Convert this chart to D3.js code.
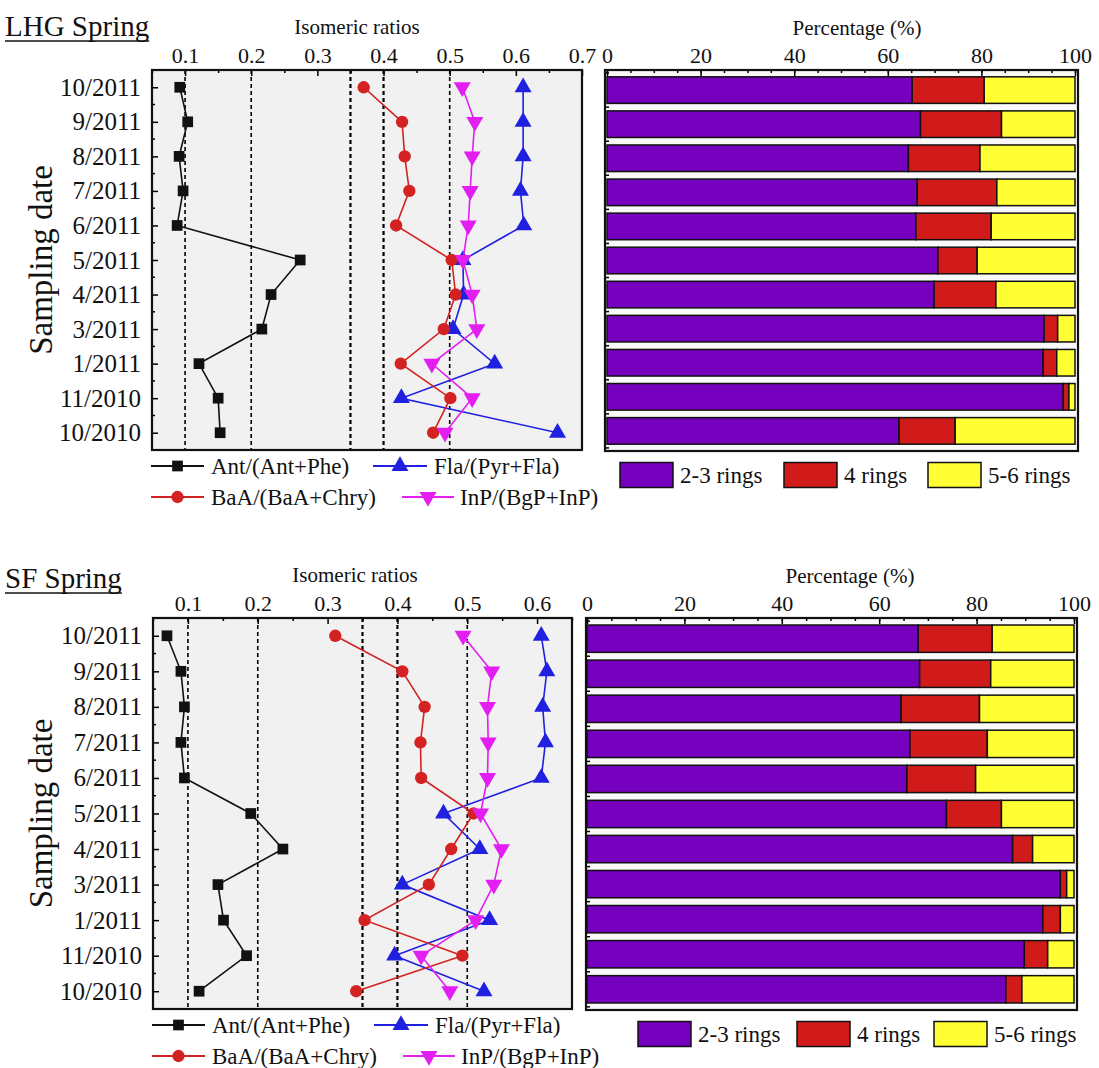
<!DOCTYPE html>
<html>
<head>
<meta charset="utf-8">
<script src="https://cdn.jsdelivr.net/npm/d3@7"></script>
<style>
  body { margin: 0; background: #fff; }
  svg, svg text { font-family: "Times New Roman", "Liberation Serif", "DejaVu Serif", serif; }
</style>
</head>
<body>
<svg id="chart" width="1099" height="1068"></svg>
<script>
// sampling dates, top row first
const dates = ["10/2011", "9/2011", "8/2011", "7/2011", "6/2011", "5/2011", "4/2011", "3/2011", "1/2011", "11/2010", "10/2010"];

// isomeric ratios, LHG spring
const lhgAnt = [0.092, 0.104, 0.091, 0.097, 0.088, 0.274, 0.230, 0.216, 0.121, 0.150, 0.153];
const lhgBaA = [0.370, 0.428, 0.432, 0.439, 0.419, 0.503, 0.509, 0.491, 0.426, 0.501, 0.475];
const lhgFla = [0.611, 0.611, 0.611, 0.607, 0.612, 0.520, 0.521, 0.505, 0.568, 0.427, 0.663];
const lhgInP = [0.519, 0.538, 0.534, 0.531, 0.528, 0.520, 0.534, 0.541, 0.473, 0.534, 0.493];

// isomeric ratios, SF spring
const sfAnt = [0.070, 0.090, 0.095, 0.090, 0.095, 0.190, 0.236, 0.143, 0.151, 0.184, 0.116];
const sfBaA = [0.311, 0.407, 0.439, 0.433, 0.434, 0.509, 0.477, 0.445, 0.353, 0.493, 0.341];
const sfFla = [0.606, 0.614, 0.608, 0.612, 0.606, 0.466, 0.518, 0.407, 0.532, 0.396, 0.524];
const sfInP = [0.494, 0.535, 0.529, 0.530, 0.529, 0.519, 0.549, 0.538, 0.512, 0.434, 0.475];

// ring percentages
const lhgRing23 = [65.2, 67.0, 64.4, 66.3, 66.0, 70.7, 69.9, 93.4, 93.2, 97.5, 62.4];
const lhgRing4  = [15.4, 17.3, 15.3, 17.0, 16.1, 8.4, 13.2, 2.9, 2.9, 1.2, 12.0];
const lhgRing56 = [19.4, 15.7, 20.3, 16.7, 17.9, 20.9, 16.9, 3.7, 3.9, 1.3, 25.6];
const sfRing23 = [68.0, 68.3, 64.5, 66.3, 65.7, 73.8, 87.4, 97.2, 93.6, 89.8, 86.0];
const sfRing4  = [15.2, 14.6, 16.1, 15.9, 14.1, 11.3, 4.1, 1.3, 3.6, 4.8, 3.3];
const sfRing56 = [16.8, 17.1, 19.4, 17.8, 20.2, 14.9, 8.5, 1.5, 2.8, 5.4, 10.7];

const seriesNames = ["Ant/(Ant+Phe)", "Fla/(Pyr+Fla)", "BaA/(BaA+Chry)", "InP/(BgP+InP)"];
const ringNames = ["2-3 rings", "4 rings", "5-6 rings"];
const lhgTicks = [0.1, 0.2, 0.3, 0.4, 0.5, 0.6, 0.7];
const sfTicks = [0.1, 0.2, 0.3, 0.4, 0.5, 0.6];
const guideLines = [0.1, 0.2, 0.35, 0.4, 0.5];
const pctTicks = [0, 20, 40, 60, 80, 100];

const FONT = '"Times New Roman", "Liberation Serif", "DejaVu Serif", serif';
const svg = d3.select("#chart");

const styles = [
  {color: "#111", symbol: d3.symbolSquare, size: 115, rot: 0},
  {color: "#2020e0", symbol: d3.symbolTriangle, size: 125, rot: 0},
  {color: "#d42222", symbol: d3.symbolCircle, size: 120, rot: 0},
  {color: "#e21ff0", symbol: d3.symbolTriangle, size: 125, rot: 180}
];
const ringColors = ["#7500bd", "#d11b1b", "#ffff33"];

function txt(g, x, y, size, s) {
  return g.append("text").attr("x", x).attr("y", y)
    .attr("font-size", size).attr("font-family", FONT).attr("fill", "#111").text(s);
}

function styleAxis(a) {
  a.attr("font-family", FONT);
  a.select(".domain").remove();
  a.selectAll("line").attr("stroke-width", 1.5);
  a.selectAll("text").attr("font-size", 22).attr("font-family", FONT).attr("fill", "#111");
}

function drawSection(cfg) {
  const g = svg.append("g");

  // title with underline
  const t = txt(g, 5, cfg.titleY, 29, cfg.title);
  const tw = t.node().getComputedTextLength();
  g.append("line").attr("x1", 5).attr("x2", 5 + tw)
    .attr("y1", cfg.titleY + 5).attr("y2", cfg.titleY + 5)
    .attr("stroke", "#111").attr("stroke-width", 1.5);

  // ----- line panel -----
  const x = d3.scaleLinear().domain(cfg.xDomain).range([cfg.lx0, cfg.lx1]);
  const y = d3.scalePoint().domain(dates).range([cfg.top, cfg.bottom]).padding(0.5);

  g.append("rect").attr("x", cfg.lx0).attr("y", cfg.top)
    .attr("width", cfg.lx1 - cfg.lx0).attr("height", cfg.bottom - cfg.top)
    .attr("fill", "#f1f1f1");

  g.selectAll(".guide").data(guideLines).join("line")
    .attr("x1", d => x(d)).attr("x2", d => x(d))
    .attr("y1", cfg.top).attr("y2", cfg.bottom)
    .attr("stroke", "#000")
    .attr("stroke-width", d => (d === 0.35 || d === 0.4) ? 2.2 : 1.6)
    .attr("stroke-dasharray", "4,3");

  const minorX = d3.range(0.05, cfg.xDomain[1] + 0.001, 0.1).map(v => +v.toFixed(2));
  g.append("g").attr("transform", `translate(0,${cfg.top})`)
    .call(d3.axisTop(x).tickValues(minorX).tickSize(-3).tickFormat(""))
    .call(styleAxis);
  g.append("g").attr("transform", `translate(0,${cfg.top})`)
    .call(d3.axisTop(x).tickValues(cfg.ticks).tickSize(-6).tickPadding(7).tickFormat(d3.format(".1f")))
    .call(styleAxis);

  // minor y ticks between dates
  const yMinor = dates.slice(0, -1).map((d, i) => (y(d) + y(dates[i + 1])) / 2);
  g.selectAll(".ym").data(yMinor).join("line")
    .attr("x1", cfg.lx0).attr("x2", cfg.lx0 + 3).attr("y1", d => d).attr("y2", d => d)
    .attr("stroke", "#000").attr("stroke-width", 1.5);
  g.append("g").attr("transform", `translate(${cfg.lx0},0)`)
    .call(d3.axisLeft(y).tickSize(-6).tickPadding(11))
    .call(styleAxis)
    .selectAll("text").attr("font-size", 25);

  txt(g, 0, 0, 33, "Sampling date")
    .attr("transform", `translate(52,${(cfg.top + cfg.bottom) / 2}) rotate(-90)`)
    .attr("text-anchor", "middle");
  txt(g, cfg.isoX, cfg.top - 36, 21, "Isomeric ratios").attr("text-anchor", "middle");

  const line = d3.line().x(d => x(d.v)).y(d => y(d.date));
  cfg.series.forEach((vals, k) => {
    const pts = vals.map((v, i) => ({date: dates[i], v: v}));
    const st = styles[k];
    g.append("path").datum(pts).attr("d", line)
      .attr("fill", "none").attr("stroke", st.color).attr("stroke-width", 1.6);
    g.selectAll(".m" + k).data(pts).join("path")
      .attr("transform", d => `translate(${x(d.v)},${y(d.date)}) rotate(${st.rot})`)
      .attr("d", d3.symbol(st.symbol, st.size))
      .attr("fill", st.color);
  });

  g.append("rect").attr("x", cfg.lx0).attr("y", cfg.top)
    .attr("width", cfg.lx1 - cfg.lx0).attr("height", cfg.bottom - cfg.top)
    .attr("fill", "none").attr("stroke", "#111").attr("stroke-width", 2.2);

  // line legend
  const legPos = [
    {x0: cfg.lx0 - 1, x1: cfg.lx0 + 52, tx: cfg.lx0 + 59, row: 0},
    {x0: cfg.lx0 + 221, x1: cfg.lx0 + 275, tx: cfg.lx0 + 282, row: 0},
    {x0: cfg.lx0 - 1, x1: cfg.lx0 + 52, tx: cfg.lx0 + 59, row: 1},
    {x0: cfg.lx0 + 250, x1: cfg.lx0 + 302, tx: cfg.lx0 + 308, row: 1}
  ];
  legPos.forEach((p, k) => {
    const ly = cfg.bottom + 16 + p.row * 31;
    const st = styles[k];
    g.append("line").attr("x1", p.x0).attr("x2", p.x1).attr("y1", ly).attr("y2", ly)
      .attr("stroke", st.color).attr("stroke-width", 1.8);
    g.append("path")
      .attr("transform", `translate(${(p.x0 + p.x1) / 2},${ly}) rotate(${st.rot})`)
      .attr("d", d3.symbol(st.symbol, st.size)).attr("fill", st.color);
    txt(g, p.tx, ly, 23, seriesNames[k]).attr("dy", "0.33em");
  });

  // ----- bar panel -----
  const bx = d3.scaleLinear().domain([0, 100]).range([cfg.bx0, cfg.bx1]);
  const by = d3.scaleBand().domain(dates).range([cfg.top, cfg.bottom + 1])
    .paddingInner(0.22).paddingOuter(0.2);
  g.append("rect").attr("x", cfg.bf0).attr("y", cfg.top)
    .attr("width", cfg.bf1 - cfg.bf0).attr("height", cfg.bottom + 1 - cfg.top)
    .attr("fill", "#f9f9f9");

  const rows = dates.map((d, i) => ({date: d, r23: cfg.rings[0][i], r4: cfg.rings[1][i], r56: cfg.rings[2][i]}));
  const stacked = d3.stack().keys(["r23", "r4", "r56"])(rows);
  g.selectAll(".ring").data(stacked).join("g")
    .attr("fill", (d, i) => ringColors[i])
    .selectAll("rect").data(d => d).join("rect")
    .attr("x", d => bx(d[0])).attr("width", d => bx(d[1]) - bx(d[0]))
    .attr("y", d => by(d.data.date)).attr("height", by.bandwidth())
    .attr("stroke", "#111").attr("stroke-width", 1.5);

  g.append("g").attr("transform", `translate(0,${cfg.top})`)
    .call(d3.axisTop(bx).tickValues(d3.range(0, 101, 5)).tickSize(-3).tickFormat(""))
    .call(styleAxis);
  g.append("g").attr("transform", `translate(0,${cfg.top})`)
    .call(d3.axisTop(bx).tickValues(pctTicks).tickSize(-6).tickPadding(7))
    .call(styleAxis);

  const half = by.step() * by.paddingInner() / 2;
  const gaps = dates.map(d => by(d) - half).concat([by(dates[dates.length - 1]) + by.bandwidth() + half]);
  g.selectAll(".bt").data(gaps).join("line")
    .attr("x1", cfg.bf0).attr("x2", cfg.bf0 + 4).attr("y1", d => d).attr("y2", d => d)
    .attr("stroke", "#000").attr("stroke-width", 1.5);

  g.append("rect").attr("x", cfg.bf0).attr("y", cfg.top)
    .attr("width", cfg.bf1 - cfg.bf0).attr("height", cfg.bottom + 1 - cfg.top)
    .attr("fill", "none").attr("stroke", "#111").attr("stroke-width", 2.2);

  txt(g, cfg.pctX, cfg.top - 35, 21, "Percentage (%)").attr("text-anchor", "middle");

  // ring legend
  cfg.ringLeg.forEach((sx, k) => {
    const ly = cfg.bottom + 25;
    g.append("rect").attr("x", sx).attr("y", ly - 12.5).attr("width", 53).attr("height", 25)
      .attr("fill", ringColors[k]).attr("stroke", "#111").attr("stroke-width", 1.5);
    txt(g, sx + 60, ly, 23, ringNames[k]).attr("dy", "0.33em");
  });
}

drawSection({
  title: "LHG Spring", titleY: 36,
  top: 70, bottom: 450,
  lx0: 152, lx1: 582, xDomain: [0.05, 0.7], ticks: lhgTicks, isoX: 357,
  series: [lhgAnt, lhgFla, lhgBaA, lhgInP],
  bf0: 605, bf1: 1078, bx0: 607, bx1: 1075, pctX: 857,
  rings: [lhgRing23, lhgRing4, lhgRing56],
  ringLeg: [620, 784, 928]
});

drawSection({
  title: "SF Spring", titleY: 588,
  top: 618, bottom: 1009,
  lx0: 153, lx1: 572, xDomain: [0.05, 0.65], ticks: sfTicks, isoX: 355,
  series: [sfAnt, sfFla, sfBaA, sfInP],
  bf0: 586, bf1: 1077, bx0: 587, bx1: 1074, pctX: 850,
  rings: [sfRing23, sfRing4, sfRing56],
  ringLeg: [638, 797, 934]
});
</script>
</body>
</html>
